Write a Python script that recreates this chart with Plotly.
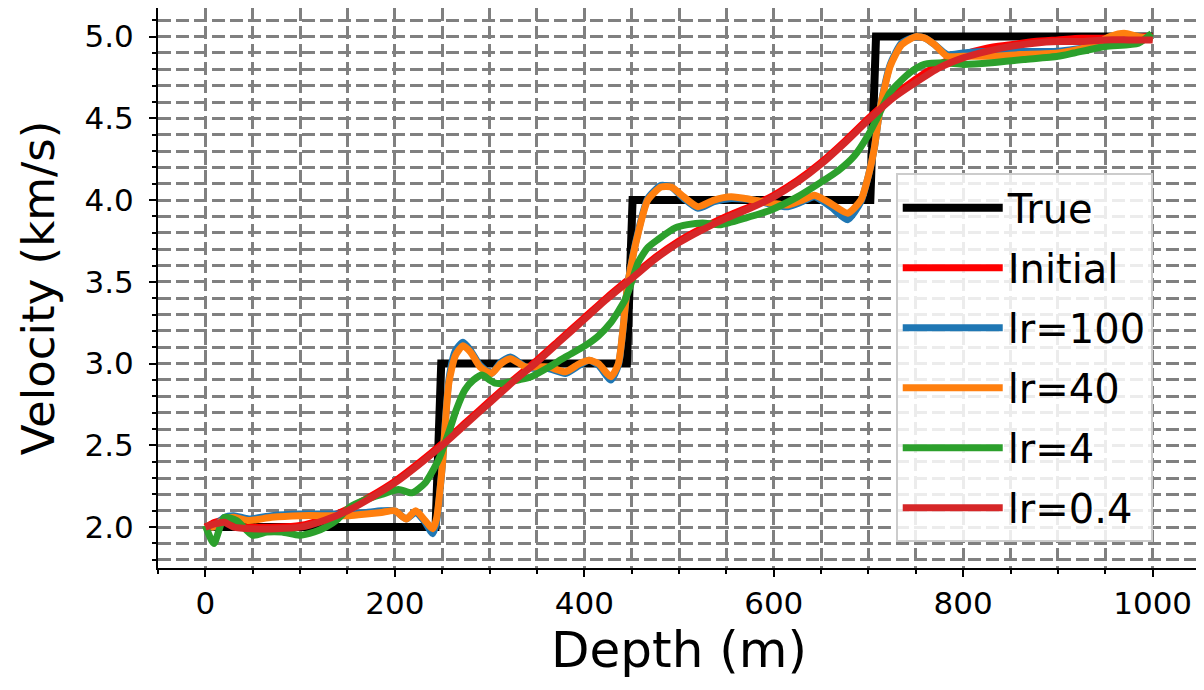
import plotly.graph_objects as go

# ---------------- data ----------------
true_depth = [0, 243, 249, 445, 451, 702, 708, 1000]
true_vel = [2.0, 2.0, 3.0, 3.0, 4.0, 4.0, 5.0, 5.0]

init_depth = [0, 10, 20, 30, 50, 75, 100, 125, 150, 175, 200, 225, 250, 275, 300, 325, 350,
              375, 400, 425, 450, 475, 500, 525, 550, 575, 600, 625, 650, 675, 700, 725, 750,
              775, 800, 825, 850, 875, 900, 925, 950, 975, 1000]
init_vel = [2.0, 2.03, 2.04, 2.01, 2.0, 2.0, 2.01, 2.05, 2.11, 2.19, 2.28, 2.39, 2.51, 2.64, 2.77,
            2.9, 3.02, 3.15, 3.28, 3.41, 3.53, 3.65, 3.75, 3.83, 3.9, 3.96, 4.03, 4.12, 4.23,
            4.36, 4.5, 4.63, 4.74, 4.83, 4.89, 4.93, 4.95, 4.97, 4.98, 4.99, 4.99, 5.0, 5.0]

lr04_depth = init_depth
lr04_vel = [2.0, 2.02, 2.03, 2.0, 1.99, 1.99, 2.0, 2.04, 2.1, 2.18, 2.27, 2.38, 2.5, 2.63, 2.76,
            2.89, 3.01, 3.14, 3.27, 3.4, 3.52, 3.64, 3.74, 3.82, 3.89, 3.95, 4.02, 4.11, 4.22,
            4.35, 4.49, 4.62, 4.72, 4.81, 4.87, 4.91, 4.94, 4.96, 4.97, 4.97, 4.98, 4.98, 4.98]

lr40_depth = [0, 8, 20, 30, 46, 70, 100, 130, 152, 170, 186, 200, 212, 222, 232, 240, 244, 250,
              257, 264, 272, 280, 290, 302, 312, 322, 338, 350, 362, 380, 395, 405, 415, 428,
              436, 446, 457, 467, 481, 492, 505, 520, 537, 555, 580, 600, 615, 630, 643, 660,
              678, 692, 700, 706, 712, 723, 735, 750, 760, 770, 783, 800, 830, 860, 900, 935,
              955, 970, 985, 1000]
lr40_vel = [2.01, 2.0, 2.05, 2.06, 2.04, 2.06, 2.07, 2.07, 2.07, 2.08, 2.09, 2.1, 2.05, 2.1, 2.04,
            1.99, 2.05, 2.37, 2.88, 3.05, 3.11, 3.07, 2.98, 2.94, 3.0, 3.03, 2.98, 2.98, 2.98,
            2.95, 3.0, 3.02, 3.0, 2.92, 3.0, 3.49, 3.8, 4.0, 4.08, 4.08, 4.02, 3.96, 4.0, 4.02,
            4.0, 3.98, 3.97, 4.0, 4.03, 3.98, 3.92, 4.0, 4.15, 4.31, 4.55, 4.82, 4.95, 5.0, 4.99,
            4.95, 4.88, 4.88, 4.88, 4.89, 4.9, 4.94, 5.0, 5.02, 5.0, 4.99]

lr100_depth = lr40_depth
lr100_vel = [2.01, 2.0, 2.06, 2.07, 2.05, 2.07, 2.08, 2.08, 2.08, 2.09, 2.1, 2.1, 2.05, 2.09, 2.03,
             1.96, 2.03, 2.37, 2.9, 3.08, 3.13, 3.08, 2.99, 2.94, 3.01, 3.04, 2.98, 2.97, 2.97,
             2.94, 2.99, 3.02, 2.99, 2.9, 2.99, 3.49, 3.81, 4.01, 4.09, 4.08, 4.01, 3.95, 3.99,
             4.01, 4.0, 3.97, 3.96, 3.99, 4.02, 3.96, 3.88, 3.99, 4.15, 4.31, 4.55, 4.83, 4.96,
             5.0, 4.99, 4.95, 4.89, 4.9, 4.91, 4.91, 4.91, 4.94, 4.99, 5.01, 5.0, 4.99]

lr4_depth = [0, 9, 20, 33, 50, 65, 81, 99, 115, 127, 140, 152, 170, 186, 204, 218, 232, 246,
             257, 265, 274, 283, 292, 300, 306, 315, 330, 344, 360, 380, 401, 415, 428, 443,
             450, 457, 467, 478, 496, 509, 525, 544, 570, 597, 625, 650, 668, 685, 700, 709,
             723, 744, 759, 780, 800, 830, 864, 900, 917, 950, 985, 999]
lr4_vel = [2.01, 1.9, 2.06, 2.04, 1.95, 1.97, 1.97, 1.95, 1.97, 2.0, 2.05, 2.12, 2.17, 2.2, 2.23,
           2.21, 2.27, 2.41, 2.58, 2.72, 2.84, 2.9, 2.93, 2.9, 2.88, 2.88, 2.9, 2.92, 2.97, 3.04,
           3.11, 3.17, 3.25, 3.39, 3.5, 3.62, 3.71, 3.76, 3.83, 3.85, 3.86, 3.85, 3.89, 3.94,
           4.02, 4.11, 4.18, 4.27, 4.4, 4.5, 4.66, 4.78, 4.83, 4.84, 4.83, 4.84, 4.86, 4.88, 4.9,
           4.94, 4.96, 5.02]

x_ticks = [0, 200, 400, 600, 800, 1000]
y_ticks = [2.0, 2.5, 3.0, 3.5, 4.0, 4.5, 5.0]

# ---------------- figure ----------------
FONT = "DejaVu Sans"
GRID = "#808080"
DASH = "13px,5px"

fig = go.Figure()

series = [
    ("True", true_depth, true_vel, "#000000", 8, "linear"),
    ("Initial", init_depth, init_vel, "#ff0000", 7, "spline"),
    ("lr=100", lr100_depth, lr100_vel, "#1f77b4", 7, "spline"),
    ("lr=40", lr40_depth, lr40_vel, "#ff7f0e", 7, "spline"),
    ("lr=4", lr4_depth, lr4_vel, "#2ca02c", 7, "spline"),
    ("lr=0.4", lr04_depth, lr04_vel, "#d62728", 7, "spline"),
]
for i, (name, xs, ys, col, w, shape) in enumerate(series):
    line = dict(color=col, width=w, shape=shape)
    if shape == "spline":
        line["smoothing"] = 0.6
    fig.add_trace(go.Scatter(x=xs, y=ys, mode="lines", name=name, line=line,
                             legendgroup=f"g{i}"))

axis_common = dict(
    showline=True, linecolor="black", linewidth=2, mirror=True,
    ticks="outside", tickcolor="black", tickwidth=1.5, ticklen=7,
    showgrid=True, gridcolor=GRID, gridwidth=2.5, griddash=DASH,
    zeroline=False, automargin=False,
    tickfont=dict(family=FONT, size=31, color="black"),
)
minor_common = dict(ticks="outside", ticklen=4, tickcolor="black", tickwidth=1.5,
                    showgrid=True, gridcolor=GRID, gridwidth=2.5, griddash=DASH)

fig.update_xaxes(
    **axis_common,
    range=[-50, 1050],
    tickvals=x_ticks, ticktext=[str(v) for v in x_ticks],
    minor=dict(dtick=50, tick0=0, **minor_common),
    title=dict(text="Depth (m)", font=dict(family=FONT, size=50, color="black"), standoff=4),
)
fig.update_yaxes(
    **axis_common,
    range=[1.75, 5.175],
    tickvals=y_ticks, ticktext=[f"{v:.1f}" for v in y_ticks],
    ticklabelstandoff=9,
    minor=dict(dtick=0.1, tick0=0, **minor_common),
    title=dict(text="Velocity (km/s)", font=dict(family=FONT, size=45, color="black"), standoff=16),
)

# the page body adds an 8 px offset, so the figure is sized to fit the window
fig.update_layout(
    width=1196, height=682,
    margin=dict(l=150, r=4, t=0, b=122),
    plot_bgcolor="white", paper_bgcolor="white",
    showlegend=True,
    legend=dict(
        x=0.708, y=0.705, xanchor="left", yanchor="top",
        bgcolor="rgba(255,255,255,0.85)", bordercolor="#cccccc", borderwidth=2,
        font=dict(family=FONT, size=40, color="black"),
        traceorder="grouped", tracegroupgap=5, itemwidth=100,
    ),
)

fig.write_html("out.html")
